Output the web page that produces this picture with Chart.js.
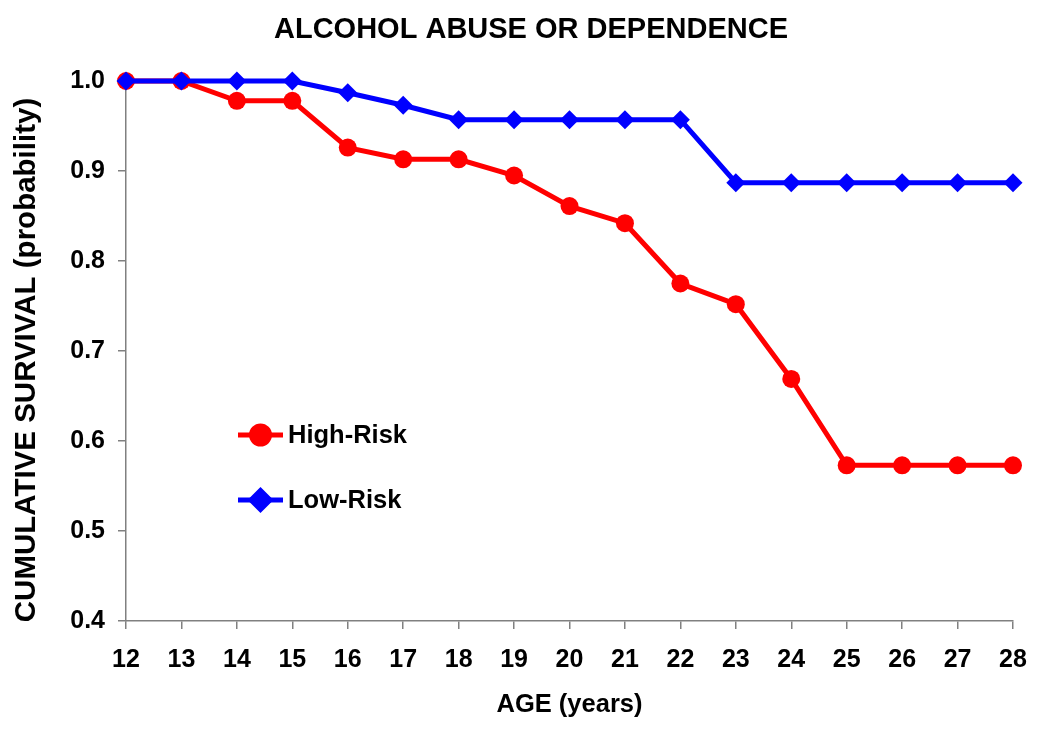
<!DOCTYPE html>
<html>
<head>
<meta charset="utf-8">
<script src="https://cdn.jsdelivr.net/npm/chart.js@4/dist/chart.umd.min.js"></script>
<style>
  html, body { margin: 0; padding: 0; background: #ffffff; }
  #wrap { width: 1050px; height: 732px; }
</style>
</head>
<body>
<div id="wrap"><canvas id="c" width="1050" height="732"></canvas></div>
<script>
const ages = [12, 13, 14, 15, 16, 17, 18, 19, 20, 21, 22, 23, 24, 25, 26, 27, 28];
const highRisk = [1.0, 1.0, 0.978, 0.978, 0.926, 0.913, 0.913, 0.895, 0.861, 0.842, 0.775, 0.752, 0.669, 0.573, 0.573, 0.573, 0.573];
const lowRisk = [1.0, 1.0, 1.0, 1.0, 0.987, 0.973, 0.957, 0.957, 0.957, 0.957, 0.957, 0.887, 0.887, 0.887, 0.887, 0.887, 0.887];
const seriesNames = ['High-Risk', 'Low-Risk'];
const chartTitle = 'ALCOHOL ABUSE OR DEPENDENCE';
const xTitle = 'AGE (years)';
const yTitle = 'CUMULATIVE SURVIVAL (probability)';

const FONT = "'Liberation Sans', Arial, sans-serif";
const AXIS_GRAY = '#808080';

// Chart title and vertical axis title, placed relative to the chart area
const titlesPlugin = {
  id: 'titles',
  afterDraw(chart) {
    const ctx = chart.ctx;
    const area = chart.chartArea;
    ctx.save();
    ctx.fillStyle = '#000000';
    ctx.textAlign = 'center';
    ctx.textBaseline = 'alphabetic';
    ctx.font = 'bold 29px ' + FONT;
    ctx.fillText(chartTitle, area.left + 405, area.top - 43);
    ctx.translate(area.left - 99, (area.top + area.bottom) / 2 + 9);
    ctx.rotate(-Math.PI / 2);
    ctx.textBaseline = 'middle';
    ctx.font = 'bold 29.5px ' + FONT;
    ctx.fillText(yTitle, 0, 0);
    ctx.restore();
  }
};

const legendPlugin = {
  id: 'insideLegend',
  afterDraw(chart) {
    const ctx = chart.ctx;
    const area = chart.chartArea;
    const x0 = area.left + 112;
    const lineLen = 45;
    const ys = [area.top + 354, area.top + 419];
    chart.data.datasets.forEach((ds, i) => {
      const y = ys[i];
      ctx.save();
      ctx.strokeStyle = ds.borderColor;
      ctx.lineWidth = ds.borderWidth;
      ctx.beginPath();
      ctx.moveTo(x0, y);
      ctx.lineTo(x0 + lineLen, y);
      ctx.stroke();
      Chart.helpers.drawPoint(ctx, {
        pointStyle: ds.pointStyle,
        radius: ds.pointRadius,
        borderWidth: 1,
        rotation: 0
      }, x0 + lineLen / 2, y);
      ctx.fillStyle = ds.pointBackgroundColor;
      ctx.fill();
      ctx.fillStyle = '#000000';
      ctx.font = 'bold 25.5px ' + FONT;
      ctx.textBaseline = 'middle';
      ctx.textAlign = 'left';
      ctx.fillText(ds.label, x0 + lineLen + 5, y + 1);
      ctx.restore();
    });
  }
};

new Chart(document.getElementById('c'), {
  type: 'line',
  data: {
    labels: ages,
    datasets: [
      {
        label: seriesNames[0],
        data: highRisk,
        borderColor: '#FF0000',
        backgroundColor: '#FF0000',
        pointBackgroundColor: '#FF0000',
        pointBorderColor: '#FF0000',
        pointStyle: 'circle',
        pointRadius: 9,
        pointBorderWidth: 0,
        borderWidth: 5,
        tension: 0,
        clip: false,
        order: 1
      },
      {
        label: seriesNames[1],
        data: lowRisk,
        borderColor: '#0000FF',
        backgroundColor: '#0000FF',
        pointBackgroundColor: '#0000FF',
        pointBorderColor: '#0000FF',
        pointStyle: 'rectRot',
        pointRadius: 9.5,
        pointBorderWidth: 0,
        borderWidth: 5,
        tension: 0,
        clip: false,
        order: 0
      }
    ]
  },
  options: {
    responsive: false,
    animation: false,
    devicePixelRatio: 1,
    layout: { padding: { left: 0, right: 37, top: 81, bottom: 0 } },
    plugins: {
      legend: { display: false },
      tooltip: { enabled: false },
      title: { display: false }
    },
    scales: {
      x: {
        type: 'category',
        offset: false,
        afterFit(s) { s.height = 111; },
        grid: { display: true, drawOnChartArea: false, drawTicks: true, tickLength: 8, color: AXIS_GRAY, lineWidth: 1.5 },
        border: { display: true, color: AXIS_GRAY, width: 1.5 },
        ticks: { color: '#000000', font: { family: FONT, size: 25, weight: 'bold' }, padding: 16, maxRotation: 0, autoSkip: false },
        title: { display: true, text: xTitle, color: '#000000', font: { family: FONT, size: 25.5, weight: 'bold' }, padding: { top: 0, bottom: 12 } }
      },
      y: {
        min: 0.4,
        max: 1.0,
        afterFit(s) { s.width = 126; },
        grid: { display: true, drawOnChartArea: false, drawTicks: true, tickLength: 8, color: AXIS_GRAY, lineWidth: 1.5 },
        border: { display: true, color: AXIS_GRAY, width: 1.5 },
        ticks: {
          stepSize: 0.1,
          color: '#000000',
          font: { family: FONT, size: 25, weight: 'bold' },
          padding: 13,
          callback: (v) => Number(v).toFixed(1)
        },
        title: { display: false, text: yTitle }
      }
    }
  },
  plugins: [titlesPlugin, legendPlugin]
});
</script>
</body>
</html>
